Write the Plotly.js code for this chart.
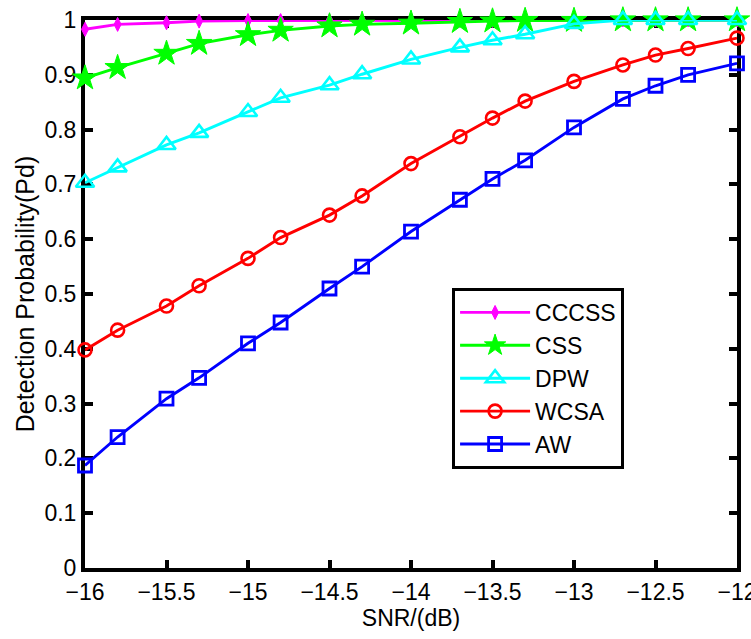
<!DOCTYPE html>
<html>
<head>
<meta charset="utf-8">
<script src="https://cdn.plot.ly/plotly-3.0.1.min.js"></script>
<style>
  html, body { margin: 0; padding: 0; background: #fff; }
  #chart { width: 751px; height: 639px; }
</style>
</head>
<body>
<div id="chart"></div>
<script>
// SNR sweep (dB)
const snr = [-16, -15.8, -15.5, -15.3, -15, -14.8, -14.5, -14.3, -14, -13.7, -13.5, -13.3, -13, -12.7, -12.5, -12.3, -12];

// Detection probability for each scheme
const pdCCCSS = [0.983, 0.992, 0.995, 0.998, 0.999, 0.999, 0.999, 0.999, 0.999, 0.999, 0.999, 0.999, 0.999, 1.0, 1.0, 1.0, 1.0];
const pdCSS   = [0.894, 0.913, 0.939, 0.957, 0.973, 0.981, 0.989, 0.992, 0.994, 0.997, 0.998, 0.999, 0.999, 1.0, 1.0, 1.0, 1.0];
const pdDPW   = [0.703, 0.731, 0.772, 0.794, 0.832, 0.858, 0.881, 0.901, 0.928, 0.950, 0.963, 0.974, 0.993, 1.0, 1.0, 1.0, 1.0];
const pdWCSA  = [0.398, 0.434, 0.478, 0.515, 0.565, 0.603, 0.644, 0.679, 0.738, 0.787, 0.821, 0.852, 0.888, 0.918, 0.936, 0.948, 0.967];
const pdAW    = [0.187, 0.239, 0.309, 0.347, 0.410, 0.448, 0.510, 0.550, 0.614, 0.672, 0.710, 0.744, 0.804, 0.856, 0.880, 0.900, 0.921];

const font = 'Arial, "Liberation Sans", sans-serif';

function series(name, y, color, symbol, size, lw) {
  return {
    x: snr, y: y, name: name, type: 'scatter', mode: 'lines+markers',
    cliponaxis: false,
    line: { color: color, width: 2.9 },
    marker: {
      symbol: symbol, size: size, color: color,
      line: { color: color, width: lw }
    }
  };
}

const traces = [
  series('CCCSS', pdCCCSS, '#ff00ff', 'diamond-tall',     10, 1),
  series('CSS',   pdCSS,   '#00ff00', 'star',             19, 1),
  series('DPW',   pdDPW,   '#00ffff', 'triangle-up-open', 16, 2.6),
  series('WCSA',  pdWCSA,  '#ff0000', 'circle-open',      13, 2.6),
  series('AW',    pdAW,    '#0000ff', 'square-open',      13, 2.8)
];

const axisCommon = {
  showline: true, linecolor: '#000', linewidth: 4,
  mirror: 'allticks', ticks: 'inside', ticklen: 8, tickwidth: 4, tickcolor: '#000',
  showgrid: false, zeroline: false, layer: 'below traces',
  ticklabeloverflow: 'allow',
  tickfont: { family: font, size: 23, color: '#000' }
};

const layout = {
  width: 751, height: 639,
  margin: { l: 85, r: 14, t: 20, b: 71 },
  paper_bgcolor: '#fff', plot_bgcolor: '#fff',
  font: { family: font, color: '#000' },
  xaxis: Object.assign({}, axisCommon, {
    range: [-16, -12], tick0: -16, dtick: 0.5,
    title: { text: 'SNR/(dB)', font: { family: font, size: 23, color: '#000' }, standoff: 4 }
  }),
  yaxis: Object.assign({}, axisCommon, {
    range: [0, 1], tick0: 0, dtick: 0.1,
    title: { text: 'Detection Probability(Pd)', font: { family: font, size: 25, color: '#000' }, standoff: 4 }
  }),
  showlegend: true,
  legend: {
    x: 0.563, y: 0.511, xanchor: 'left', yanchor: 'top',
    bgcolor: '#fff', bordercolor: '#000', borderwidth: 3,
    font: { family: font, size: 23, color: '#000' },
    itemwidth: 70,
    tracegroupgap: 0
  }
};

Plotly.newPlot('chart', traces, layout, { displayModeBar: false, staticPlot: true });
</script>
</body>
</html>
